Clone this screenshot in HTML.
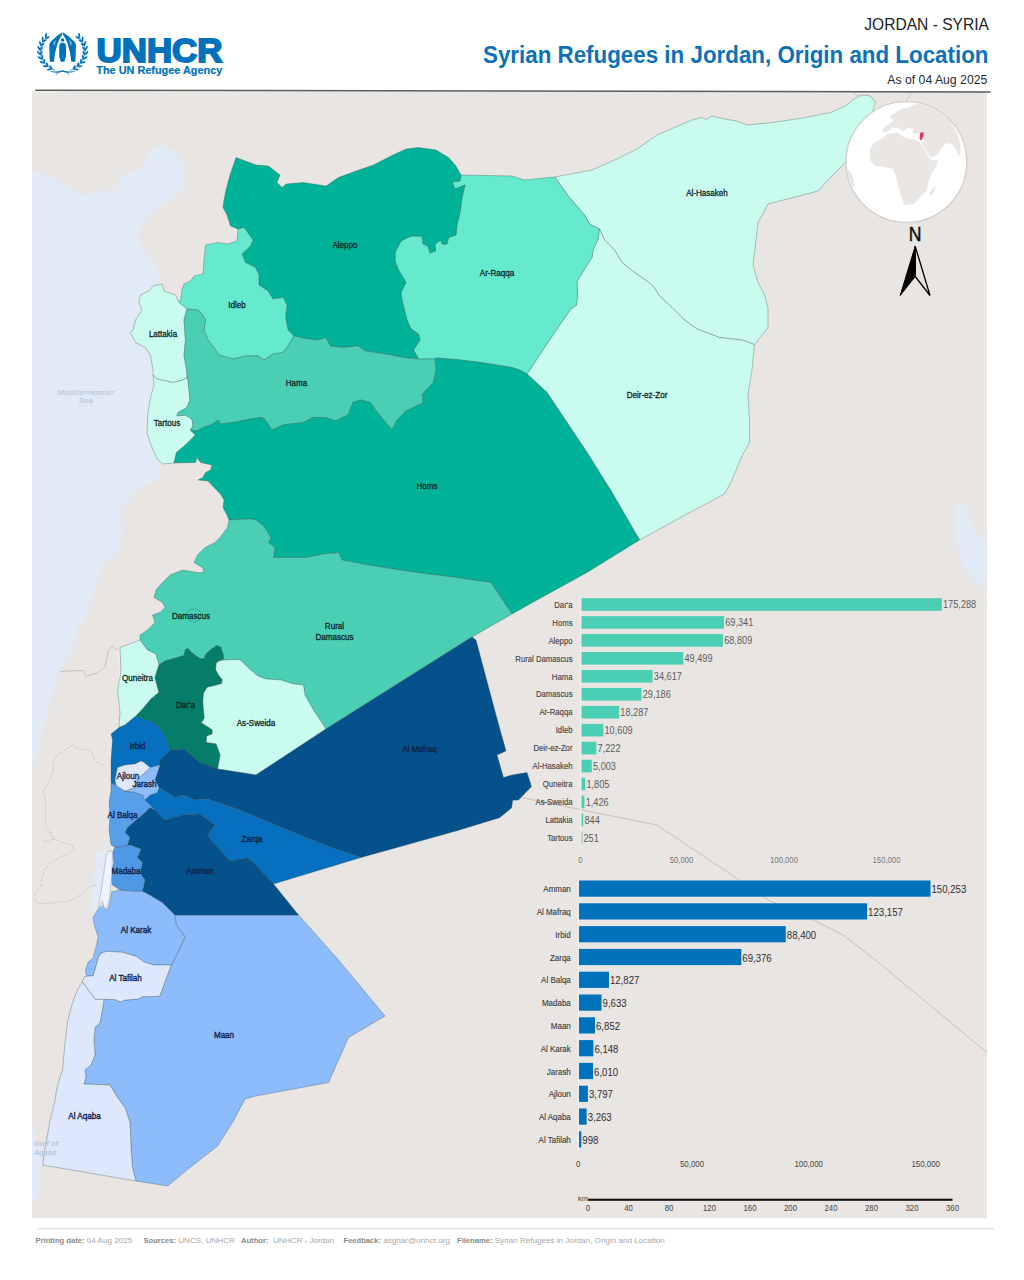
<!DOCTYPE html>
<html lang="en"><head><meta charset="utf-8"><title>Syrian Refugees in Jordan, Origin and Location</title>
<style>
html,body{margin:0;padding:0;background:#fff;}
body{width:1024px;height:1280px;overflow:hidden;position:relative;font-family:"Liberation Sans",sans-serif;}
svg{position:absolute;left:0;top:0;display:block;}
svg text{font-family:"Liberation Sans",sans-serif;}
.reg{stroke:#2f4a4c;stroke-opacity:.36;stroke-width:.9;stroke-linejoin:round;}
.lbl{font-size:9.5px;fill:#0b2622;text-anchor:middle;stroke:#0b2622;stroke-width:.3;}
.lblj{font-size:9.5px;fill:#13224a;text-anchor:middle;stroke:#13224a;stroke-width:.4;}
.cat{font-size:9.5px;fill:#444;text-anchor:end;stroke:#444;stroke-width:.15;}
.val{font-size:10px;fill:#5c5c5c;}
.valj{font-size:10.7px;fill:#2e2e2e;}
.catj{font-size:9.5px;fill:#3c3c3c;text-anchor:end;stroke:#3c3c3c;stroke-width:.15;}
.ax{font-size:9px;fill:#777;text-anchor:middle;}
.axj{font-size:9.2px;fill:#444;text-anchor:middle;}
.sc{font-size:8.8px;fill:#444;text-anchor:middle;}
.ft{font-size:8.1px;fill:#a8a8a8;}
.ft .b{font-weight:bold;fill:#8a8a8a;font-size:7.6px;}
</style></head><body>
<svg width="1024" height="1280" viewBox="0 0 1024 1280">
<defs><clipPath id="mapclip"><rect x="32" y="91" width="955" height="1127.5"/></clipPath>
<clipPath id="globeclip"><circle cx="906.4" cy="162" r="59.6"/></clipPath>
<filter id="soft" x="-5%" y="-5%" width="110%" height="110%"><feGaussianBlur stdDeviation="2.2"/></filter>
<filter id="soft2" x="-5%" y="-5%" width="110%" height="110%"><feGaussianBlur stdDeviation=".5"/></filter></defs>

<g id="header">
<text x="989" y="29.6" text-anchor="end" font-size="16.2" fill="#222" textLength="124.7" lengthAdjust="spacingAndGlyphs">JORDAN - SYRIA</text>
<text x="988.5" y="62.9" text-anchor="end" font-size="23" font-weight="bold" fill="#0b72b9" textLength="505.5" lengthAdjust="spacingAndGlyphs">Syrian Refugees in Jordan, Origin and Location</text>
<text x="987.3" y="84.1" text-anchor="end" font-size="12.3" fill="#2a2a2a" textLength="100" lengthAdjust="spacingAndGlyphs">As of 04 Aug 2025</text>
</g>
<g id="logo" fill="#0072bc">
<text x="96.5" y="61.7" font-size="32.3" font-weight="bold" stroke="#0072bc" stroke-width="1.8" stroke-linejoin="miter" textLength="126" lengthAdjust="spacingAndGlyphs">UNHCR</text>
<text x="96.3" y="74.1" font-size="10.4" font-weight="bold" stroke="#0072bc" stroke-width=".2" textLength="126" lengthAdjust="spacingAndGlyphs">The UN Refugee Agency</text>
<path d="M46.0,37.6 L45.3,38.4 L44.7,39.2 L44.0,40.0 L43.4,40.8 L42.9,41.7 L42.4,42.6 L42.0,43.5 L41.6,44.4 L41.3,45.3 L41.0,46.3 L40.7,47.3 L40.5,48.2 L40.4,49.2 L40.3,50.2 L40.3,51.2 L40.3,52.2 L40.4,53.2 L40.5,54.2 L40.7,55.1 L41.0,56.1 L41.3,57.1 L41.6,58.0 L42.0,58.9 L42.4,59.8 L42.9,60.7 L43.4,61.6 L44.0,62.4 L44.7,63.2 L45.3,64.0 L46.0,64.8 L46.8,65.5 L47.6,66.2 L48.4,66.8 L49.2,67.5 L50.1,68.0 L51.0,68.6 L52.0,69.1 L53.0,69.5 L54.0,69.9 L55.0,70.3" fill="none" stroke="#0072bc" stroke-width=".7"/>
<ellipse cx="46.02" cy="35.50" rx="2.70" ry=".95" transform="rotate(-79.3 46.02 35.50)"/>
<ellipse cx="47.71" cy="37.47" rx="2.30" ry=".95" transform="rotate(-17.3 47.71 37.47)"/>
<ellipse cx="42.66" cy="39.21" rx="2.70" ry=".95" transform="rotate(-92.5 42.66 39.21)"/>
<ellipse cx="44.76" cy="40.74" rx="2.30" ry=".95" transform="rotate(-30.5 44.76 40.74)"/>
<ellipse cx="40.26" cy="43.52" rx="2.70" ry=".95" transform="rotate(-106.1 40.26 43.52)"/>
<ellipse cx="42.66" cy="44.52" rx="2.30" ry=".95" transform="rotate(-44.1 42.66 44.52)"/>
<ellipse cx="38.96" cy="48.24" rx="2.70" ry=".95" transform="rotate(-120.1 38.96 48.24)"/>
<ellipse cx="41.53" cy="48.63" rx="2.30" ry=".95" transform="rotate(-58.1 41.53 48.63)"/>
<ellipse cx="38.83" cy="53.13" rx="2.70" ry=".95" transform="rotate(-134.1 38.83 53.13)"/>
<ellipse cx="41.42" cy="52.89" rx="2.30" ry=".95" transform="rotate(-72.1 41.42 52.89)"/>
<ellipse cx="39.90" cy="57.94" rx="2.70" ry=".95" transform="rotate(-147.8 39.90 57.94)"/>
<ellipse cx="42.36" cy="57.08" rx="2.30" ry=".95" transform="rotate(-85.8 42.36 57.08)"/>
<ellipse cx="42.12" cy="62.40" rx="2.70" ry=".95" transform="rotate(-161.1 42.12 62.40)"/>
<ellipse cx="44.31" cy="61.00" rx="2.30" ry=".95" transform="rotate(-99.1 44.31 61.00)"/>
<ellipse cx="45.36" cy="66.29" rx="2.70" ry=".95" transform="rotate(-173.9 45.36 66.29)"/>
<ellipse cx="47.19" cy="64.44" rx="2.30" ry=".95" transform="rotate(-111.9 47.19 64.44)"/>
<ellipse cx="49.45" cy="69.41" rx="2.70" ry=".95" transform="rotate(-186.2 49.45 69.41)"/>
<ellipse cx="50.84" cy="67.22" rx="2.30" ry=".95" transform="rotate(-124.2 50.84 67.22)"/>
<path d="M79.2,37.6 L79.9,38.4 L80.5,39.2 L81.2,40.0 L81.8,40.8 L82.3,41.7 L82.8,42.6 L83.2,43.5 L83.6,44.4 L83.9,45.3 L84.2,46.3 L84.5,47.3 L84.7,48.2 L84.8,49.2 L84.9,50.2 L84.9,51.2 L84.9,52.2 L84.8,53.2 L84.7,54.2 L84.5,55.1 L84.2,56.1 L83.9,57.1 L83.6,58.0 L83.2,58.9 L82.8,59.8 L82.3,60.7 L81.8,61.6 L81.2,62.4 L80.5,63.2 L79.9,64.0 L79.2,64.8 L78.4,65.5 L77.6,66.2 L76.8,66.8 L76.0,67.5 L75.1,68.0 L74.2,68.6 L73.2,69.1 L72.2,69.5 L71.2,69.9 L70.2,70.3" fill="none" stroke="#0072bc" stroke-width=".7"/>
<ellipse cx="79.18" cy="35.50" rx="2.70" ry=".95" transform="rotate(259.3 79.18 35.50)"/>
<ellipse cx="77.49" cy="37.47" rx="2.30" ry=".95" transform="rotate(197.3 77.49 37.47)"/>
<ellipse cx="82.54" cy="39.21" rx="2.70" ry=".95" transform="rotate(272.5 82.54 39.21)"/>
<ellipse cx="80.44" cy="40.74" rx="2.30" ry=".95" transform="rotate(210.5 80.44 40.74)"/>
<ellipse cx="84.94" cy="43.52" rx="2.70" ry=".95" transform="rotate(286.1 84.94 43.52)"/>
<ellipse cx="82.54" cy="44.52" rx="2.30" ry=".95" transform="rotate(224.1 82.54 44.52)"/>
<ellipse cx="86.24" cy="48.24" rx="2.70" ry=".95" transform="rotate(300.1 86.24 48.24)"/>
<ellipse cx="83.67" cy="48.63" rx="2.30" ry=".95" transform="rotate(238.1 83.67 48.63)"/>
<ellipse cx="86.37" cy="53.13" rx="2.70" ry=".95" transform="rotate(314.1 86.37 53.13)"/>
<ellipse cx="83.78" cy="52.89" rx="2.30" ry=".95" transform="rotate(252.1 83.78 52.89)"/>
<ellipse cx="85.30" cy="57.94" rx="2.70" ry=".95" transform="rotate(327.8 85.30 57.94)"/>
<ellipse cx="82.84" cy="57.08" rx="2.30" ry=".95" transform="rotate(265.8 82.84 57.08)"/>
<ellipse cx="83.08" cy="62.40" rx="2.70" ry=".95" transform="rotate(341.1 83.08 62.40)"/>
<ellipse cx="80.89" cy="61.00" rx="2.30" ry=".95" transform="rotate(279.1 80.89 61.00)"/>
<ellipse cx="79.84" cy="66.29" rx="2.70" ry=".95" transform="rotate(353.9 79.84 66.29)"/>
<ellipse cx="78.01" cy="64.44" rx="2.30" ry=".95" transform="rotate(291.9 78.01 64.44)"/>
<ellipse cx="75.75" cy="69.41" rx="2.70" ry=".95" transform="rotate(366.2 75.75 69.41)"/>
<ellipse cx="74.36" cy="67.22" rx="2.30" ry=".95" transform="rotate(304.2 74.36 67.22)"/>
<path d="M48.500,70.800 Q56,72.600 62.600,70.300 Q69.200,72.600 76.700,70.800 Q69.500,74.200 62.600,71.700 Q55.700,74.200 48.500,70.800Z"/>
<path d="M58.500,72.300 L56.300,74.800 M66.700,72.300 L68.900,74.800" stroke="#0072bc" stroke-width=".8" fill="none"/>
<path d="M62.300,32.300 L57,36.100 L50.800,41.700 Q49.200,43.200 49.200,45.200 L49.800,61.800 L53.900,61.800 L55.100,53 L57,45.500 Q57.800,41.300 62.200,34.800 Z"/>
<path d="M62.900,32.300 L68.200,36.100 L74.400,41.700 Q76,43.200 76,45.200 L75.400,61.800 L71.300,61.800 L70.100,53 L68.200,45.500 Q67.400,41.300 63,34.800 Z"/>
<path d="M53.300,42.800 Q55,40.800 56.300,40 Q54.800,43.300 54.300,46 Z M71.900,42.800 Q70.200,40.800 68.900,40 Q70.400,43.300 70.900,46 Z" fill="#8fc4ea"/>
<circle cx="62.600" cy="39.900" r="1.750"/>
<path d="M61.300,42.800 L63.900,42.800 Q66,43.600 66,46.200 L66,56.600 L64.300,61.800 L60.900,61.800 L59.200,56.600 L59.200,46.200 Q59.200,43.600 61.300,42.800 Z"/>
</g>
<g id="map" clip-path="url(#mapclip)">
<rect x="32" y="91.3" width="955" height="1127.2" fill="#e9e5e2"/>
<path d="M20,172 L32,172 L50,175 L65,185 L82,195 L100,192 L117,190 L120,175 L140,170 L150,152 L162,145 L175,150 L182.5,162.5 L182.5,190 L160,207.5 L145,220 L137.5,232.5 L140,245 L152.5,262.5 L160,275 L162,284 L153,286 L149,291 L140.5,295 L139,302.5 L142,310 L135.5,320 L133,330 L130.5,332.5 L135.5,342.5 L145.5,347.5 L150.5,355 L153,370 L153,375 L154,385 L150.5,397.5 L148,412.5 L147,432.5 L151,445 L157,459 L160,462.5 L160,477.5 L150,482.5 L137.5,490 L130,500 L120,510 L122.5,527.5 L120,545 L117.5,552.5 L107.5,560 L100,570 L95,590 L90,602.5 L85,620 L77.5,627.5 L75,640 L67.5,657.5 L57.5,677.5 L50,702.5 L44,727.5 L37.5,752.5 L32,770 L20,770Z" fill="#e0ebf7" filter="url(#soft)"/>
<path d="M32,1120 L35,1132.5 L34,1140 L41,1145 L42.5,1165 L40,1167.5 L39,1185 L37.5,1200 L32,1200Z" fill="#e0ebf7"/>
<path d="M955.5,505 L965.5,504 L975.5,532.5 L987,537.5 L987,587.5 L973,580 L960.5,562.5 L955.5,532.5Z" fill="#e0ebf7" filter="url(#soft)"/>
<path d="M98,852 L108,850 L106,857 L103.8,873 L100.3,896.3 L97.9,910.4 L94,920 L93,915 L92.1,890 L94.4,868Z" fill="#e0ebf7"/>
<path d="M522,797.5 L582,810 L657,825 L739.5,880 L768,900 L813,920 L843,935 L875.5,960 L986.8,1052.5" fill="none" stroke="#c8bfba" stroke-width="1"/>
<path d="M854,91 L857,96 L862,95 M912,91 L909,97 L905,101" fill="none" stroke="#cfc9c6" stroke-width="1"/>
<path d="M60.4,671.5 L82.7,670.4 L86.2,676.2 L97.9,672.7 L104.9,666.8 L108.5,650.4 L112,645.8 L117.8,650.4" fill="none" stroke="#c6bfbb" stroke-width="1"/>
<path d="M117.8,650.4 L120,672 L117.5,690 L120,712 L119,727 L111,734 L112.5,740 L111,760 L111,790 L109,802.5 L110,815 L109,830 L111,848" fill="none" stroke="#f4f2f0" stroke-width="2" stroke-dasharray="1.5,1.5"/>
<path d="M72.2,745 L66,749.7 L58.1,754.4 L53.4,760.6 L53.4,770 L48.8,782.5 L43.3,791.9 L45.6,801.2 L45.6,813.8 L45.6,826.2 L50.3,832.5 L53.4,838.8 L47.2,841.9 L42.5,840.3" fill="none" stroke="#cdc7c4" stroke-width="1" stroke-dasharray="2.5,1.5"/>
<path d="M53.4,838.8 L61.2,841.9 L72.2,845 L74.5,849.7 L70.6,852.8 L62.8,855.9 L53.4,860.6 L45.6,868.4 L42.5,876.2 L40.9,885.6 L36.2,891.9 L33.9,898.1 L37.8,903.6 L53.4,902.8 L69,901.2 L80,895 L89.4,887.2 L97.2,884.8" fill="none" stroke="#cdc7c4" stroke-width="1" stroke-dasharray="2.5,1.5"/>
<path d="M72.2,745 L78.4,748.9 L87.8,749.7 L92.5,752.8 L94.8,760.6 L98.8,763.8 L105,764.5" fill="none" stroke="#cdc7c4" stroke-width="1" stroke-dasharray="2.5,1.5"/>
<path class="reg" d="M554.5,177 L592,170 L617,159 L637,149 L657,135 L674.5,127.5 L692,120 L702,117.5 L706,119.5 L712,116 L724.5,119 L737,121 L747,125 L768,123 L783,121 L805.5,117.5 L830.5,112.5 L845.5,106 L854,99 L862,95 L870.5,96 L875.5,102.5 L873,110 L868,125 L858,142 L847,160 L843,165 L835.5,172.5 L828,180 L818,191 L793,197.5 L768,204 L758,222.5 L756,240 L753,265 L758,282.5 L764.5,295 L768,307.5 L768,327.5 L754.5,344.5 L742,340 L719.5,337.5 L697,329 L684.5,320 L672,307.5 L659.5,296 L654.5,287.5 L647,281 L634.5,272.5 L622,262.5 L614.5,250 L604.5,240 L599.5,229 L589.5,224 L584.5,215 L569.5,197.5 L554.5,177Z" fill="#cafbef"/>
<path class="reg" d="M599.5,229 L604.5,240 L614.5,250 L622,262.5 L634.5,272.5 L647,281 L654.5,287.5 L659.5,296 L672,307.5 L684.5,320 L697,329 L719.5,337.5 L742,340 L754.5,344.5 L752,370 L748,395 L749.5,420 L749.5,442.5 L742,456 L732,480 L724.5,494 L687,514 L639.5,540 L612,492.5 L587,452.5 L562,415 L547,392.5 L527,374 L544.5,347.5 L563,320 L571,309 L576.5,305 L577.5,295 L577,281 L581,275 L587,265 L592,257.5 L593,250 L598,239 L599.5,229Z" fill="#cafbef"/>
<path class="reg" d="M461,175 L512,176 L524.5,180 L554.5,177 L569.5,197.5 L584.5,215 L589.5,224 L599.5,229 L598,239 L593,250 L592,257.5 L587,265 L581,275 L577,281 L577.5,295 L576.5,305 L571,309 L563,320 L544.5,347.5 L527,374 L519.5,370 L512,367.5 L481,362.5 L456,359.5 L436,358 L435,359 L418.5,359 L413.5,350 L420,340 L418.5,334 L411,329 L407,320 L402,300 L401,292.5 L406,282.5 L398.5,270 L395,261 L395,252.5 L401,241 L411,236 L422,236 L423,244 L428,246 L430,253 L435.5,251 L435,244 L441,240 L442,244 L447,244 L448.5,237.5 L456,235 L457,225 L460,212.5 L462,197.5 L465,185 L455,189 L452,182 L460,181 L461,175Z" fill="#65eace"/>
<path class="reg" d="M236,157.5 L230,175 L226,190 L224,200 L223,207.5 L227,215 L230.5,226 L238,229 L244,227.5 L253,240 L250.5,246 L242,254 L245.5,262.5 L255.5,267.5 L259,275 L259,285 L268,291 L273,299 L283,297.5 L287,305 L285.5,317.5 L288,330 L294,336 L308,339 L318,340 L325.5,337.5 L330.5,346 L343,347.5 L358,346 L365.5,351 L386,354 L403.5,357.5 L418.5,359 L413.5,350 L420,340 L418.5,334 L411,329 L407,320 L402,300 L401,292.5 L406,282.5 L398.5,270 L395,261 L395,252.5 L401,241 L411,236 L422,236 L423,244 L428,246 L430,253 L435.5,251 L435,244 L441,240 L442,244 L447,244 L448.5,237.5 L456,235 L457,225 L460,212.5 L462,197.5 L465,185 L455,189 L452,182 L460,181 L461,175 L456,166 L448.5,157.5 L436,150 L418.5,147.5 L406,149 L391,156 L373.5,165 L356,171 L338.5,177.5 L326,186 L303.5,182.5 L286,184 L282,187.5 L277,182.5 L280,175 L268.5,166 L256,165 L236,157.5Z" fill="#00b398"/>
<path class="reg" d="M238,229 L237,241 L228,244 L218,242.5 L205.5,245 L204,260 L203,274 L194,276 L190.5,281 L184,284 L182,290 L180.5,300 L179,302.5 L187,309 L198,310 L203,315 L205.5,320 L204,330 L208,340 L214,347.5 L219,355 L233,359 L245.5,356 L258,356 L264,360 L273,354 L283,352.5 L288,346 L294,336 L288,330 L285.5,317.5 L287,305 L283,297.5 L273,299 L268,291 L259,285 L259,275 L255.5,267.5 L245.5,262.5 L242,254 L250.5,246 L253,240 L244,227.5 L238,229Z" fill="#65eace"/>
<path class="reg" d="M162,284 L153,286 L149,291 L140.5,295 L139,302.5 L142,310 L135.5,320 L133,330 L130.5,332.5 L135.5,342.5 L145.5,347.5 L150.5,355 L153,370 L153,375 L157,379 L173,382.5 L183,380 L187,377.5 L187,372.5 L184,355 L185.5,340 L184,320 L187,309 L179,302.5 L175.5,295 L164,291 L162,284Z" fill="#cafbef"/>
<path class="reg" d="M153,375 L154,385 L150.5,397.5 L148,412.5 L147,432.5 L151,445 L157,459 L163,464 L174,463 L176.5,452.5 L185.5,445 L195.5,435 L190.5,430 L193,426 L192,419 L185.5,415 L177,416 L178,412.5 L187,407.5 L190,400 L188,380 L187,377.5 L183,380 L173,382.5 L157,379 L153,375Z" fill="#cafbef"/>
<path class="reg" d="M187,309 L184,320 L185.5,340 L184,355 L187,372.5 L187,377.5 L188,380 L190,400 L187,407.5 L178,412.5 L177,416 L185.5,415 L192,419 L193,426 L190.5,430 L197,431 L203,427.5 L213,424 L218,420 L220.5,424 L233,422.5 L250.5,419 L263,417.5 L268,424 L272,430 L283,425 L303,422.5 L313,417.5 L325.5,417.5 L335.5,421 L348,415 L353,402.5 L360.5,400 L370.5,402.5 L375.5,410 L383.5,420 L392,430 L397,420 L406,411 L423.5,402.5 L422,395 L426,390 L433.5,382.5 L436,370 L435,359 L418.5,359 L403.5,357.5 L386,354 L365.5,351 L358,346 L343,347.5 L330.5,346 L325.5,337.5 L318,340 L308,339 L294,336 L288,346 L283,352.5 L273,354 L264,360 L258,356 L245.5,356 L233,359 L219,355 L214,347.5 L208,340 L204,330 L205.5,320 L203,315 L198,310 L187,309Z" fill="#4acfb4"/>
<path class="reg" d="M174,463 L195.5,462.5 L197,457.5 L200.5,462.5 L212,465 L210.5,470 L205.5,472.5 L203,477.5 L198,480 L208,481 L214,487.5 L220.5,494 L224,500 L223,507.5 L227,515 L229,520 L250,519 L256,520 L263.5,526 L271,537.5 L268.5,542.5 L275,547.5 L273.5,557.5 L306,557.5 L323.5,554 L338.5,552.5 L342,560 L368.5,565 L406,571 L456,577.5 L491,582.5 L501,597.5 L512,614 L537,600 L587,572.5 L639.5,540 L612,492.5 L587,452.5 L562,415 L547,392.5 L527,374 L519.5,370 L512,367.5 L481,362.5 L456,359.5 L436,358 L435,359 L436,370 L433.5,382.5 L426,390 L422,395 L423.5,402.5 L406,411 L397,420 L392,430 L383.5,420 L375.5,410 L370.5,402.5 L360.5,400 L353,402.5 L348,415 L335.5,421 L325.5,417.5 L313,417.5 L303,422.5 L283,425 L272,430 L268,424 L263,417.5 L250.5,419 L233,422.5 L220.5,424 L218,420 L213,424 L203,427.5 L197,431 L190.5,430 L195.5,435 L185.5,445 L176.5,452.5 L174,463Z" fill="#00b398"/>
<path class="reg" d="M229,520 L227.5,527.5 L220,537.5 L215,542.5 L205,547.5 L197.5,555 L194,562.5 L202.5,567.5 L204,572.5 L197.5,572.5 L182.5,570 L170,575 L162.5,582.5 L156,590 L154,597.5 L162.5,602.5 L165,607.5 L160,612.5 L152.5,615 L155,622.5 L147.5,630 L140,635 L140,640 L147.5,650 L156,654 L159,665 L165,661 L177.5,657.5 L184,655.6 L185.5,649.4 L187.8,648.6 L193.3,654 L200.3,658.8 L204.2,658.8 L205.8,654 L211.2,649.4 L216.7,645.5 L220.6,647 L223.4,655.6 L223.4,659 L218.3,661 L223.8,660 L239.4,659.5 L242.5,661.9 L250.3,669.7 L258,676 L266,679 L281,680 L293.5,684 L303.5,685 L305,695 L313.5,710 L326,729 L472,637 L512,614 L501,597.5 L491,582.5 L456,577.5 L406,571 L368.5,565 L342,560 L338.5,552.5 L323.5,554 L306,557.5 L273.5,557.5 L275,547.5 L268.5,542.5 L271,537.5 L263.5,526 L256,520 L250,519 L229,520Z" fill="#4acfb4"/>
<path class="reg" d="M140,640 L147.5,650 L156,654 L159,665 L155,677.5 L159,692.5 L151,699 L144,707.5 L136,716 L125,725 L119,727.5 L120,712.5 L117.5,690 L121,672.5 L120,647.5 L140,640Z" fill="#cafbef"/>
<path class="reg" d="M218.3,661 L223.8,660 L239.4,659.5 L242.5,661.9 L250.3,669.7 L258,676 L266,679 L281,680 L293.5,684 L303.5,685 L305,695 L313.5,710 L326,729 L256,775 L217.5,769 L220,755 L216,744 L206,742.5 L206.6,736 L212,733.8 L212,729.8 L207.3,726.7 L201,722.8 L204.2,718 L203.4,710.3 L202.7,701 L203.4,693 L207.3,686.9 L215,685.3 L221.4,683.4 L222.2,679.8 L218.3,675 L215.5,669.7 L216,663.4 L218.3,661Z" fill="#cafbef"/>
<path class="reg" d="M159,665 L165,661 L177.5,657.5 L184,655.6 L185.5,649.4 L187.8,648.6 L193.3,654 L200.3,658.8 L204.2,658.8 L205.8,654 L211.2,649.4 L216.7,645.5 L220.6,647 L223.4,655.6 L223.4,659 L218.3,661 L216,663.4 L215.5,669.7 L218.3,675 L222.2,679.8 L221.4,683.4 L215,685.3 L207.3,686.9 L203.4,693 L202.7,701 L203.4,710.3 L204.2,718 L201,722.8 L207.3,726.7 L212,729.8 L212,733.8 L206.6,736 L206,742.5 L216,744 L220,755 L217.5,769 L200,762.5 L184,749 L170,750 L165,735 L157.5,725 L147.5,720 L136,716 L144,707.5 L151,699 L159,692.5 L155,677.5 L159,665Z" fill="#067d69"/>
<path class="reg" d="M175,915 L298.5,915 L338.5,960 L385,1016 L348.5,1037.5 L328.5,1082.5 L256,1096 L245,1099 L232.5,1122.5 L217.5,1146 L190,1167.5 L167.5,1186 L136,1181 L132.5,1167.5 L131,1147.5 L130,1122.5 L125,1107.5 L117.5,1097.5 L110,1085 L84,1084 L86,1077.5 L85,1070 L91,1065 L95,1055 L94,1040 L95,1027.5 L100,1022.5 L102.5,1010 L104,999 L114.7,999.5 L120.5,1002.1 L124.5,1000.1 L138.1,999.1 L142,996.8 L159.6,996.2 L161.6,991.3 L166.4,977.7 L171.3,965 L179.1,950.3 L185,936.6 L176.2,924.9Z" fill="#8dbcfd"/>
<path class="reg" d="M82.5,981.6 L89.3,991.3 L95.2,999.1 L104,999 L102.5,1010 L100,1022.5 L95,1027.5 L94,1040 L95,1055 L91,1065 L85,1070 L86,1077.5 L84,1084 L110,1085 L117.5,1097.5 L125,1107.5 L130,1122.5 L131,1147.5 L132.5,1167.5 L136,1181 L42.5,1165 L44,1155 L47.5,1135 L50,1120 L54,1105 L57.5,1085 L62.5,1070 L65,1042.5 L67.5,1022.5 L72.5,1002.5 L77.5,990Z" fill="#dee8fc"/>
<path class="reg" d="M111.8,891.7 L120,890 L132.5,891 L142.5,891 L150,895 L162.5,902.5 L175,915 L176.2,924.9 L185,936.6 L179.1,950.3 L171.3,965 L153.8,965 L144,962 L136.2,956.2 L122.5,952.3 L106.9,951.3 L101,953.2 L98.1,958.1 L96.1,965.9 L93.2,975.7 L86.4,975.7 L85.4,969.8 L88.3,962 L93.2,958.1 L96.1,946.4 L98.1,936.6 L94.2,924.9 L93.2,917.1 L98.1,909.3 L103.9,905.4 L107.9,910.3 L109.8,903.4Z" fill="#8dbcfd"/>
<path class="reg" d="M101,953.2 L106.9,951.3 L122.5,952.3 L136.2,956.2 L144,962 L153.8,965 L171.3,965 L166.4,977.7 L161.6,991.3 L159.6,996.2 L142,996.8 L138.1,999.1 L124.5,1000.1 L120.5,1002.1 L114.7,999.5 L95.2,999.1 L89.3,991.3 L82.5,981.6 L84.4,976.7 L93.2,975.7 L96.1,965.9 L98.1,958.1Z" fill="#dee8fc"/>
<path class="reg" d="M170,750 L184,749 L200,762.5 L217.5,769 L256,775 L326,729 L472,637 L476,640 L486,677.5 L496,715 L506,751 L497,755 L503.5,777.5 L512,775 L527,772.5 L531.5,786.5 L518.5,800 L512.7,800.2 L511.6,807.9 L499.6,817.7 L456,831 L406,845 L361,857.5 L331,847.5 L293.5,832.5 L256,817 L240,810 L225,805 L207.5,799 L195,800 L182.5,795 L175,797.5 L167.5,792.5 L159,787.5 L155,780 L157.5,772.5 L160,765 L160,760Z" fill="#05518c"/>
<path class="reg" d="M159,787.5 L167.5,792.5 L175,797.5 L182.5,795 L195,800 L207.5,799 L225,805 L240,810 L256,817 L293.5,832.5 L331,847.5 L361,857.5 L273.5,884 L256,865 L247.5,857.5 L230,861 L220,850 L207.5,835 L215,825 L200,814 L182.5,815 L165,820 L155,810 L147.5,802.5 L145,800 L150,795 L157.5,792.5Z" fill="#0670be"/>
<path class="reg" d="M155,810 L165,820 L182.5,815 L200,814 L215,825 L207.5,835 L220,850 L230,861 L247.5,857.5 L256,865 L273.5,884 L298.5,915 L256,915 L175,915 L162.5,902.5 L150,895 L142.5,891 L145,880 L140,872.5 L142.5,862.5 L137.5,857.5 L141,849 L130,845 L127.5,845 L130,837.5 L125,832.5 L127.5,827.5 L136,820 L145,812.5 L150,807.5Z" fill="#05518c"/>
<path class="reg" d="M115,847.5 L127.5,845 L130,845 L141,849 L137.5,857.5 L142.5,862.5 L140,872.5 L145,880 L142.5,891 L132.5,891 L120,890 L112.5,885 L110,875 L114,862.5 L112.5,852.5Z" fill="#4f98e5"/>
<path class="reg" d="M116,785 L119,787.5 L125,791 L135,792.5 L142.5,795 L145,800 L147.5,802.5 L155,810 L150,807.5 L145,812.5 L136,820 L127.5,827.5 L125,832.5 L130,837.5 L127.5,845 L115,847.5 L111,845 L109,830 L110,815 L109,802.5 L111,790 L111,782.5Z" fill="#579fe9"/>
<path class="reg" d="M119,727.5 L125,725 L136,716 L147.5,720 L157.5,725 L165,735 L170,750 L160,760 L160,765 L150,767.5 L144,762.5 L141,761 L135,764 L125,765 L117.5,767.5 L115,780 L116,785 L111,782.5 L111,760 L112.5,740 L111,734Z" fill="#0670be"/>
<path class="reg" d="M150,767.5 L160,765 L157.5,772.5 L155,780 L159,787.5 L157.5,792.5 L150,795 L145,800 L142.5,795 L135,792.5 L125,791 L135,787.5 L137.5,779 L145,772.5Z" fill="#8dbcfd"/>
<path class="reg" d="M117.5,767.5 L125,765 L135,764 L141,761 L144,762.5 L150,767.5 L145,772.5 L137.5,779 L135,787.5 L125,791 L119,787.5 L116,785 L115,780Z" fill="#dee8fc"/>
<path d="M108.5,850.7 L112.4,851.9 L112,873 L109.6,896.3 L107.3,909.2 L103.8,906.9 L102.6,901 L97.9,910.4 L100.3,896.3 L103.8,873 L106.1,856.5Z" fill="#eef4fd" stroke="#9aa7bd" stroke-width=".6"/>
<path d="M188,611.5 L191.500,609.200 L196,608.800 L199.500,610.500 L201.200,614 L200.500,618.500 L197.500,621.500 L193,622.300 L189.500,620.800 L187.600,617.500 L187.400,614 Z" fill="#4acfb4" stroke="#1f6a60" stroke-opacity=".55" stroke-width=".6"/>
<text x="86" y="394.5" font-size="7.6" font-weight="bold" font-style="italic" fill="#bfc9db" text-anchor="middle" letter-spacing=".4">Mediterranean</text>
<text x="86" y="403.3" font-size="7.6" font-weight="bold" font-style="italic" fill="#bfc9db" text-anchor="middle" letter-spacing=".4">Sea</text>
<text x="46" y="1146" font-size="7.4" font-weight="bold" font-style="italic" fill="#b5c6dc" text-anchor="middle">Gulf of</text>
<text x="45" y="1155" font-size="7.4" font-weight="bold" font-style="italic" fill="#b5c6dc" text-anchor="middle">Aqaba</text>
<text class="lbl" transform="translate(345,247.7) scale(0.85,1)">Aleppo</text>
<text class="lbl" transform="translate(497,276.2) scale(0.85,1)">Ar-Raqqa</text>
<text class="lbl" transform="translate(707,196.2) scale(0.85,1)">Al-Hasakeh</text>
<text class="lbl" transform="translate(237,308.2) scale(0.85,1)">Idleb</text>
<text class="lbl" transform="translate(163,337.2) scale(0.85,1)">Lattakia</text>
<text class="lbl" transform="translate(296.5,386.2) scale(0.85,1)">Hama</text>
<text class="lbl" transform="translate(167,426.2) scale(0.85,1)">Tartous</text>
<text class="lbl" transform="translate(647,398.2) scale(0.85,1)">Deir-ez-Zor</text>
<text class="lbl" transform="translate(427,488.7) scale(0.85,1)">Homs</text>
<text class="lbl" transform="translate(191,619.2) scale(0.85,1)">Damascus</text>
<text class="lbl" transform="translate(334.5,629.2) scale(0.85,1)">Rural</text>
<text class="lbl" transform="translate(334.5,639.7) scale(0.85,1)">Damascus</text>
<text class="lbl" transform="translate(137.5,681.2) scale(0.85,1)">Quneitra</text>
<text class="lbl" transform="translate(185.5,707.7) scale(0.85,1)">Dar&#39;a</text>
<text class="lbl" transform="translate(256,726.2) scale(0.85,1)">As-Sweida</text>
<text class="lblj" transform="translate(137.5,748.7) scale(0.85,1)">Irbid</text>
<text class="lblj" transform="translate(128,778.7) scale(0.85,1)">Ajloun</text>
<text class="lblj" transform="translate(144.5,787.2) scale(0.85,1)">Jarash</text>
<text class="lblj" transform="translate(419.5,752.2) scale(0.85,1)">Al Mafraq</text>
<text class="lblj" transform="translate(122.5,817.7) scale(0.85,1)">Al Balqa</text>
<text class="lblj" transform="translate(252,842.2) scale(0.85,1)">Zarqa</text>
<text class="lblj" transform="translate(126,874.2) scale(0.85,1)">Madaba</text>
<text class="lblj" transform="translate(200,874.2) scale(0.85,1)">Amman</text>
<text class="lblj" transform="translate(136,933.2) scale(0.85,1)">Al Karak</text>
<text class="lblj" transform="translate(125.5,981.2) scale(0.85,1)">Al Tafilah</text>
<text class="lblj" transform="translate(224,1037.7) scale(0.85,1)">Maan</text>
<text class="lblj" transform="translate(84.5,1118.7) scale(0.85,1)">Al Aqaba</text>
<g id="globe"><circle cx="906.4" cy="162" r="60.4" fill="#fff" stroke="#d3d0ce" stroke-width="1.4"/>
<g clip-path="url(#globeclip)" fill="#e9e6e3" filter="url(#soft2)">
<path d="M869.3,150.6 L873.7,143 L881.4,139.2 L887.7,134.1 L897.9,132.8 L905.5,137.9 L913.1,139.2 L919.4,141.700 L923.2,148 L928.3,155.700 L930.9,159.500 L938.500,160.700 L935.9,167.100 L930.9,174.700 L928.3,182.300 L927.100,189.900 L920.700,196.300 L914.4,203.900 L904.2,205.200 L901.700,197.600 L897.9,184.900 L895.3,174.700 L892.8,168.4 L883.9,167.100 L875,165.800 L869.9,159.500 Z"/>
<path d="M882.6,129 L886.4,125.2 L892.8,121.4 L890.2,116.3 L897.9,111.2 L902.9,108.700 L908,107.4 L913.100,104.900 L920.700,103.600 L930.9,106.200 L941,112.500 L949.9,121.4 L956.3,131.500 L960.100,141.700 L960.700,150.600 L958.8,156.900 L956.3,149.300 L952.4,144.200 L946.100,143 L942.3,146.800 L938.500,153.100 L932.100,158.200 L929.600,155.700 L923.2,146.800 L920.700,141.700 L925.8,143 L923.2,137.900 L918.2,132.800 L913.100,134.100 L913.100,129 L908,127.700 L902.9,131.500 L897.9,127.700 L892.8,127.700 L887.700,131.500 L882.6,132.800 Z"/>
<path d="M935.9,186.100 L933.4,192.500 L930.9,196.300 L929.600,193.700 L932.100,188.700 Z"/>
<path d="M846,168.600 L850.9,172.200 L853.4,178.500 L854.700,187.4 L850.9,184.900 L847.5,178.500 Z"/>
</g>
<path d="M920.1,132.8 L923.9,132.2 L923.2,136.6 L921.3,140.4 L919.7,139.2 Z" fill="#e6325a"/>
</g>
<text transform="translate(915.2,240.5) scale(.86,1)" font-size="20.5" text-anchor="middle" fill="#111" stroke="#111" stroke-width=".5">N</text>
<path d="M915.2,246.2 L900.2,295.5 L915.2,276.5 Z" fill="#000" stroke="#000" stroke-width="1" stroke-linejoin="miter"/>
<path d="M915.2,246.2 L930,295.5 L915.2,276.5 Z" fill="none" stroke="#000" stroke-width="1.3" stroke-linejoin="miter"/>
<rect x="580.2" y="596" width="1" height="252" fill="#f4f2f0"/>
<rect x="577.8" y="878" width="1" height="274" fill="#f4f2f0"/>
<rect x="581.5" y="598.2" width="360.3" height="12.6" fill="#4acfb4"/>
<text class="cat" transform="translate(572.5,607.7) scale(0.815,1)">Dar&#39;a</text>
<text class="val" transform="translate(943,608.3) scale(0.92,1)">175,288</text>
<rect x="581.5" y="616.15" width="142.53" height="12.6" fill="#4acfb4"/>
<text class="cat" transform="translate(572.5,625.65) scale(0.815,1)">Homs</text>
<text class="val" transform="translate(725.23,626.25) scale(0.92,1)">69,341</text>
<rect x="581.5" y="634.1" width="141.44" height="12.6" fill="#4acfb4"/>
<text class="cat" transform="translate(572.5,643.6) scale(0.815,1)">Aleppo</text>
<text class="val" transform="translate(724.14,644.2) scale(0.92,1)">68,809</text>
<rect x="581.5" y="652.05" width="101.74" height="12.6" fill="#4acfb4"/>
<text class="cat" transform="translate(572.5,661.55) scale(0.815,1)">Rural Damascus</text>
<text class="val" transform="translate(684.44,662.15) scale(0.92,1)">49,499</text>
<rect x="581.5" y="670" width="71.15" height="12.6" fill="#4acfb4"/>
<text class="cat" transform="translate(572.5,679.5) scale(0.815,1)">Hama</text>
<text class="val" transform="translate(653.85,680.1) scale(0.92,1)">34,617</text>
<rect x="581.5" y="687.95" width="59.99" height="12.6" fill="#4acfb4"/>
<text class="cat" transform="translate(572.5,697.45) scale(0.815,1)">Damascus</text>
<text class="val" transform="translate(642.69,698.05) scale(0.92,1)">29,186</text>
<rect x="581.5" y="705.9" width="37.59" height="12.6" fill="#4acfb4"/>
<text class="cat" transform="translate(572.5,715.4) scale(0.815,1)">Ar-Raqqa</text>
<text class="val" transform="translate(620.29,716) scale(0.92,1)">18,287</text>
<rect x="581.5" y="723.85" width="21.81" height="12.6" fill="#4acfb4"/>
<text class="cat" transform="translate(572.5,733.35) scale(0.815,1)">Idleb</text>
<text class="val" transform="translate(604.51,733.95) scale(0.92,1)">10,609</text>
<rect x="581.5" y="741.8" width="14.84" height="12.6" fill="#4acfb4"/>
<text class="cat" transform="translate(572.5,751.3) scale(0.815,1)">Deir-ez-Zor</text>
<text class="val" transform="translate(597.54,751.9) scale(0.92,1)">7,222</text>
<rect x="581.5" y="759.75" width="10.28" height="12.6" fill="#4acfb4"/>
<text class="cat" transform="translate(572.5,769.25) scale(0.815,1)">Al-Hasakeh</text>
<text class="val" transform="translate(592.98,769.85) scale(0.92,1)">5,003</text>
<rect x="581.5" y="777.7" width="3.71" height="12.6" fill="#4acfb4"/>
<text class="cat" transform="translate(572.5,787.2) scale(0.815,1)">Quneitra</text>
<text class="val" transform="translate(586.41,787.8) scale(0.92,1)">1,805</text>
<rect x="581.5" y="795.65" width="2.93" height="12.6" fill="#4acfb4"/>
<text class="cat" transform="translate(572.5,805.15) scale(0.815,1)">As-Sweida</text>
<text class="val" transform="translate(585.63,805.75) scale(0.92,1)">1,426</text>
<rect x="581.5" y="813.6" width="1.73" height="12.6" fill="#4acfb4"/>
<text class="cat" transform="translate(572.5,823.1) scale(0.815,1)">Lattakia</text>
<text class="val" transform="translate(584.43,823.7) scale(0.92,1)">844</text>
<rect x="581.5" y="831.55" width="0.8" height="12.6" fill="#4acfb4"/>
<text class="cat" transform="translate(572.5,841.05) scale(0.815,1)">Tartous</text>
<text class="val" transform="translate(583.5,841.65) scale(0.92,1)">251</text>
<text class="ax" transform="translate(580.5,862.6) scale(0.86,1)">0</text>
<text class="ax" transform="translate(681.5,862.6) scale(0.86,1)">50,000</text>
<text class="ax" transform="translate(784,862.6) scale(0.86,1)">100,000</text>
<text class="ax" transform="translate(886.5,862.6) scale(0.86,1)">150,000</text>
<rect x="579" y="880.5" width="351.5" height="16.2" fill="#0072bc"/>
<text class="catj" transform="translate(570.8,892.2) scale(0.84,1)">Amman</text>
<text class="valj" transform="translate(931.5,893.1) scale(0.9,1)">150,253</text>
<rect x="579" y="903.3" width="288.11" height="16.2" fill="#0072bc"/>
<text class="catj" transform="translate(570.8,915) scale(0.84,1)">Al Mafraq</text>
<text class="valj" transform="translate(868.11,915.9) scale(0.9,1)">123,157</text>
<rect x="579" y="926.1" width="206.8" height="16.2" fill="#0072bc"/>
<text class="catj" transform="translate(570.8,937.8) scale(0.84,1)">Irbid</text>
<text class="valj" transform="translate(786.8,938.7) scale(0.9,1)">88,400</text>
<rect x="579" y="948.9" width="162.3" height="16.2" fill="#0072bc"/>
<text class="catj" transform="translate(570.8,960.6) scale(0.84,1)">Zarqa</text>
<text class="valj" transform="translate(742.3,961.5) scale(0.9,1)">69,376</text>
<rect x="579" y="971.7" width="30.01" height="16.2" fill="#0072bc"/>
<text class="catj" transform="translate(570.8,983.4) scale(0.84,1)">Al Balqa</text>
<text class="valj" transform="translate(610.01,984.3) scale(0.9,1)">12,827</text>
<rect x="579" y="994.5" width="22.54" height="16.2" fill="#0072bc"/>
<text class="catj" transform="translate(570.8,1006.2) scale(0.84,1)">Madaba</text>
<text class="valj" transform="translate(602.54,1007.1) scale(0.9,1)">9,633</text>
<rect x="579" y="1017.3" width="16.03" height="16.2" fill="#0072bc"/>
<text class="catj" transform="translate(570.8,1029) scale(0.84,1)">Maan</text>
<text class="valj" transform="translate(596.03,1029.9) scale(0.9,1)">6,852</text>
<rect x="579" y="1040.1" width="14.38" height="16.2" fill="#0072bc"/>
<text class="catj" transform="translate(570.8,1051.8) scale(0.84,1)">Al Karak</text>
<text class="valj" transform="translate(594.38,1052.7) scale(0.9,1)">6,148</text>
<rect x="579" y="1062.9" width="14.06" height="16.2" fill="#0072bc"/>
<text class="catj" transform="translate(570.8,1074.6) scale(0.84,1)">Jarash</text>
<text class="valj" transform="translate(594.06,1075.5) scale(0.9,1)">6,010</text>
<rect x="579" y="1085.7" width="8.88" height="16.2" fill="#0072bc"/>
<text class="catj" transform="translate(570.8,1097.4) scale(0.84,1)">Ajloun</text>
<text class="valj" transform="translate(588.88,1098.3) scale(0.9,1)">3,797</text>
<rect x="579" y="1108.5" width="7.63" height="16.2" fill="#0072bc"/>
<text class="catj" transform="translate(570.8,1120.2) scale(0.84,1)">Al Aqaba</text>
<text class="valj" transform="translate(587.63,1121.1) scale(0.9,1)">3,263</text>
<rect x="579" y="1131.3" width="2.33" height="16.2" fill="#0072bc"/>
<text class="catj" transform="translate(570.8,1143) scale(0.84,1)">Al Tafilah</text>
<text class="valj" transform="translate(582.33,1143.9) scale(0.9,1)">998</text>
<text class="axj" transform="translate(578.3,1166.9) scale(0.86,1)">0</text>
<text class="axj" transform="translate(692,1166.9) scale(0.86,1)">50,000</text>
<text class="axj" transform="translate(808.7,1166.9) scale(0.86,1)">100,000</text>
<text class="axj" transform="translate(925.7,1166.9) scale(0.86,1)">150,000</text>
<rect x="588" y="1198.700" width="364.500" height="2.100" fill="#111"/>
<text x="578" y="1200.500" font-size="7.500" fill="#444">km</text>
<text class="sc" transform="translate(588,1211.1) scale(0.88,1)">0</text>
<text class="sc" transform="translate(628.5,1211.1) scale(0.88,1)">40</text>
<text class="sc" transform="translate(669,1211.1) scale(0.88,1)">80</text>
<text class="sc" transform="translate(709.5,1211.1) scale(0.88,1)">120</text>
<text class="sc" transform="translate(750,1211.1) scale(0.88,1)">160</text>
<text class="sc" transform="translate(790.5,1211.1) scale(0.88,1)">200</text>
<text class="sc" transform="translate(831,1211.1) scale(0.88,1)">240</text>
<text class="sc" transform="translate(871.5,1211.1) scale(0.88,1)">280</text>
<text class="sc" transform="translate(912,1211.1) scale(0.88,1)">320</text>
<text class="sc" transform="translate(952.5,1211.1) scale(0.88,1)">360</text>
</g>
<path d="M35.3,90.2 L990.6,92" stroke="#5c5c5c" stroke-width="1.5" fill="none"/>
<rect x="37.5" y="1228.300" width="956.500" height="1" fill="#d4d4d4"/>
<text class="ft" x="35.5" y="1242.600" xml:space="preserve"><tspan class="b">Printing date:</tspan> 04 Aug 2025 <tspan class="b" x="143.500">Sources:</tspan> UNCS, UNHCR <tspan class="b" x="241">Author:</tspan> <tspan x="273">UNHCR - Jordan</tspan> <tspan class="b" x="343.500">Feedback:</tspan> asghar@unhcr.org <tspan class="b" x="457">Filename:</tspan> Syrian Refugees in Jordan, Origin and Location</text>
</svg>
</body></html>
